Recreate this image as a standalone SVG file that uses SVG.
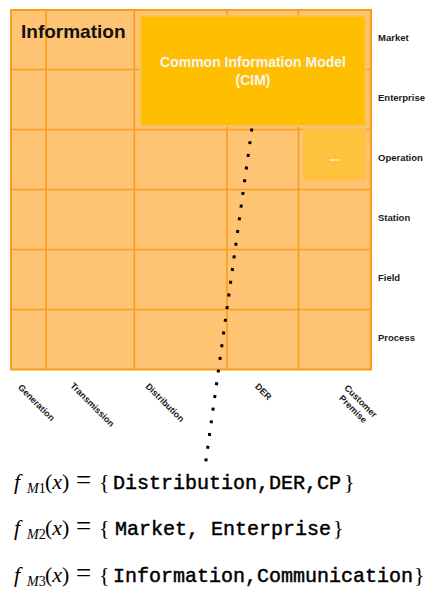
<svg xmlns="http://www.w3.org/2000/svg" width="427" height="592" viewBox="0 0 427 592">
<style>
.grid{fill:#FEC473;stroke:#F99D1C;stroke-width:2}
.gl{stroke:#F99D1C;stroke-width:1.6;fill:none}
.lab{font-family:"Liberation Sans",Arial,sans-serif;font-weight:bold;font-size:9.5px;fill:#1a1a1a}
.cl{font-family:"Liberation Sans",Arial,sans-serif;font-weight:bold;font-size:9px;fill:#1a1a1a;text-anchor:middle}
.wt{font-family:"Liberation Sans",Arial,sans-serif;font-weight:bold;font-size:14px;fill:#F4F4F4;text-anchor:middle}
.m{font-family:"Liberation Serif","Times New Roman",serif;font-size:22px;fill:#000}
.mi{font-style:italic}
.sub{font-size:14px}
.eq{font-size:27px}
.tt{font-family:"Liberation Mono","Courier New",monospace;font-size:20px;fill:#000;stroke:#000;stroke-width:0.45}
</style>
<g id="grid">
<rect class="grid" x="11" y="10" width="360" height="359.5"/>
<path class="gl" d="M46 10V369.5M134.3 10V369.5M227 10V369.5M298.5 10V369.5M11 69.5H371M11 129.5H371M11 189.5H371M11 249.5H371M11 309.5H371"/>
</g>
<g id="information">
<text x="21" y="37.5" style="font-family:'Liberation Sans',Arial,sans-serif;font-weight:bold;font-size:19px;fill:#111">Information</text>
</g>
<g id="cim">
<rect x="140.3" y="15.8" width="225.4" height="110" fill="#FFBF00" stroke="#FAC25E" stroke-width="2"/>
<text class="wt" x="253" y="66.5">Common Information Model</text>
<text class="wt" x="253" y="85">(CIM)</text>
</g>
<g id="ops">
<rect x="303.5" y="129" width="62.2" height="51" fill="#FFC23C" stroke="#F9C05A" stroke-width="1.5"/>
<text x="334.5" y="161" style="font-family:'Liberation Sans',Arial,sans-serif;font-weight:bold;font-size:12px;fill:#F6F6F6;text-anchor:middle">...</text>
</g>
<g id="rows">
<text class="lab" x="378" y="41">Market</text>
<text class="lab" x="378" y="100.5">Enterprise</text>
<text class="lab" x="378" y="160.5">Operation</text>
<text class="lab" x="378" y="220.5">Station</text>
<text class="lab" x="378" y="280.5">Field</text>
<text class="lab" x="378" y="340.5">Process</text>
</g>
<g id="columns">
<text class="cl" transform="translate(36.5,402.5) rotate(45)" y="3.2">Generation</text>
<text class="cl" transform="translate(92.5,404.5) rotate(45)" y="3.2">Transmission</text>
<text class="cl" transform="translate(165,402.5) rotate(45)" y="3.2">Distribution</text>
<text class="cl" transform="translate(263.5,391.5) rotate(45)" y="3.2">DER</text>
<text class="cl" transform="translate(357,405) rotate(45)"><tspan x="0" y="-2.3">Customer</tspan><tspan x="0" y="8.7">Premise</tspan></text>
</g>
<g id="connectors">
<path d="M251.9 128.5L205.8 461.5" stroke="#000" stroke-width="3" stroke-dasharray="3 9.81" fill="none"/>
</g>
<g id="f1">
<text class="m" y="489"><tspan class="mi" x="14">f</tspan><tspan class="sub mi" x="27" y="493">M</tspan><tspan class="sub">1</tspan><tspan x="45" y="489">(</tspan><tspan class="mi">x</tspan><tspan>)</tspan><tspan class="eq" x="76">=</tspan><tspan x="99">{</tspan></text>
<text class="tt" x="113" y="489">Distribution,DER,CP</text>
<text class="m" x="344" y="489">}</text>
</g>
<g id="f2">
<text class="m" y="535"><tspan class="mi" x="14">f</tspan><tspan class="sub mi" x="27" y="539">M</tspan><tspan class="sub">2</tspan><tspan x="45" y="535">(</tspan><tspan class="mi">x</tspan><tspan>)</tspan><tspan class="eq" x="76">=</tspan><tspan x="99">{</tspan></text>
<text class="tt" x="115" y="535">Market, Enterprise</text>
<text class="m" x="333" y="535">}</text>
</g>
<g id="f3">
<text class="m" y="582"><tspan class="mi" x="14">f</tspan><tspan class="sub mi" x="27" y="586">M</tspan><tspan class="sub">3</tspan><tspan x="45" y="582">(</tspan><tspan class="mi">x</tspan><tspan>)</tspan><tspan class="eq" x="76">=</tspan><tspan x="99">{</tspan></text>
<text class="tt" x="113" y="582">Information,Communication</text>
<text class="m" x="414" y="582">}</text>
</g>
</svg>
